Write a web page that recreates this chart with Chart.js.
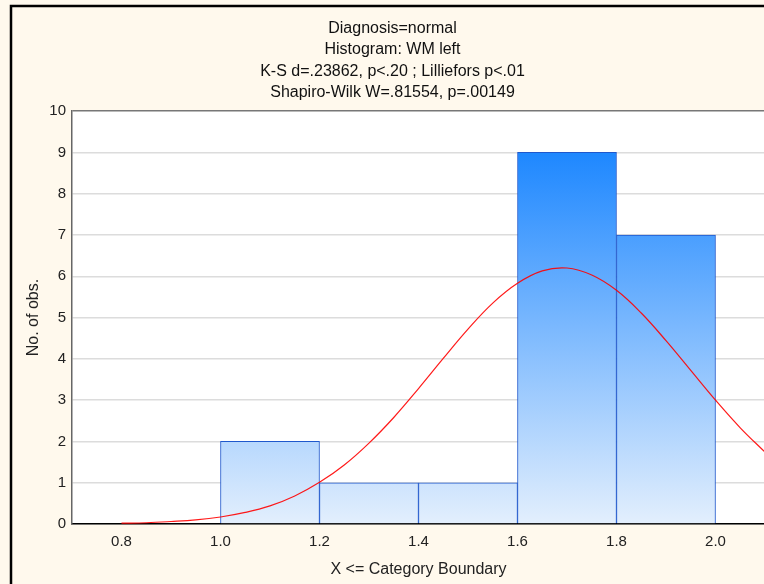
<!DOCTYPE html>
<html>
<head>
<meta charset="utf-8">
<script src="https://cdn.jsdelivr.net/npm/chart.js@4.4.1/dist/chart.umd.min.js"></script>
<style>
  html, body { margin: 0; padding: 0; overflow: hidden; background: #fff9ed; }
  canvas { display: block; }
</style>
</head>
<body>
<canvas id="histChart" width="790" height="584"></canvas>
<script>
// histogram bins (centre of each 0.2 wide class) and counts
const binCenters = [1.1, 1.3, 1.5, 1.7, 1.9];
const counts = [2, 1, 1, 9, 7];

// fitted normal curve
const curveX = [0.80, 0.85, 0.90, 0.95, 1.00, 1.05, 1.10, 1.15, 1.20, 1.25, 1.30, 1.35, 1.40, 1.45,
  1.50, 1.55, 1.60, 1.65, 1.70, 1.75, 1.80, 1.85, 1.90, 1.95, 2.00, 2.05, 2.10];
const curveY = [0.02, 0.03, 0.06, 0.10, 0.17, 0.28, 0.44, 0.68, 1.01, 1.43, 1.96, 2.58, 3.28, 4.01,
  4.72, 5.35, 5.83, 6.13, 6.20, 6.03, 5.66, 5.11, 4.44, 3.72, 3.00, 2.33, 1.74];

const xTicks = [0.8, 1.0, 1.2, 1.4, 1.6, 1.8, 2.0];
const titleLines = [
  'Diagnosis=normal',
  'Histogram: WM left',
  'K-S d=.23862, p<.20 ; Lilliefors p<.01',
  'Shapiro-Wilk W=.81554, p=.00149'
];

const FONT = "'Liberation Sans', Arial, sans-serif";

const backdrop = {
  id: 'backdrop',
  beforeDraw(chart) {
    const { ctx, width, height, chartArea } = chart;
    ctx.save();
    ctx.fillStyle = '#fff9ed';
    ctx.fillRect(0, 0, width, height);
    ctx.fillStyle = '#ffffff';
    ctx.fillRect(chartArea.left, chartArea.top, chartArea.right - chartArea.left, chartArea.bottom - chartArea.top);
    // outer frame
    ctx.strokeStyle = '#000';
    ctx.lineWidth = 2.5;
    ctx.beginPath();
    ctx.moveTo(11, height + 5);
    ctx.lineTo(11, 6);
    ctx.lineTo(width + 5, 6);
    ctx.stroke();
    ctx.restore();
  }
};

const barFill = (context) => {
  const area = context.chart.chartArea;
  if (!area) return '#6aaeff';
  const g = context.chart.ctx.createLinearGradient(0, area.top, 0, area.bottom);
  g.addColorStop(0, '#087cff');
  g.addColorStop(1, '#e3effd');
  return g;
};

new Chart(document.getElementById('histChart'), {
  type: 'bar',
  data: {
    datasets: [
      {
        type: 'line',
        data: curveX.map((x, i) => ({ x: x, y: curveY[i] })),
        borderColor: 'rgba(255, 0, 0, 0.9)',
        borderWidth: 1.2,
        pointRadius: 0,
        tension: 0.4,
        fill: false,
        order: 0
      },
      {
        type: 'bar',
        data: binCenters.map((x, i) => ({ x: x, y: counts[i] })),
        backgroundColor: barFill,
        borderColor: '#1f58cc',
        borderWidth: 1,
        barPercentage: 1,
        categoryPercentage: 1,
        order: 1
      }
    ]
  },
  options: {
    responsive: false,
    animation: false,
    layout: { padding: { left: 20, right: 25, top: 6, bottom: 0 } },
    plugins: {
      legend: { display: false },
      tooltip: { enabled: false },
      title: {
        display: true,
        text: titleLines,
        color: '#111',
        font: { family: FONT, size: 16, weight: 'normal', lineHeight: 1.33 },
        padding: { top: 12, bottom: 8 }
      }
    },
    scales: {
      x: {
        type: 'linear',
        min: 0.7,
        max: 2.1,
        offset: false,
        afterFit: (scale) => { scale.height = 60; },
        afterBuildTicks: (scale) => { scale.ticks = xTicks.map(v => ({ value: v })); },
        ticks: {
          color: '#222',
          padding: 9,
          maxRotation: 0,
          autoSkip: false,
          font: { family: FONT, size: 15 },
          callback: (v) => Number(v).toFixed(1)
        },
        grid: { display: false, drawTicks: false },
        border: { display: true, color: '#000', width: 1.5 },
        title: {
          display: true,
          text: 'X <= Category Boundary',
          color: '#222',
          font: { family: FONT, size: 16 },
          padding: { top: 0, bottom: 5 }
        }
      },
      y: {
        min: 0,
        max: 10,
        afterFit: (scale) => { scale.width = 52; },
        ticks: {
          stepSize: 1,
          color: '#222',
          padding: 6,
          font: { family: FONT, size: 15 }
        },
        grid: {
          drawTicks: false,
          color: (c) => (c.tick && c.tick.value === 10 ? '#777' : '#dcdcdc'),
          lineWidth: 1.5
        },
        border: { display: true, color: '#666', width: 1.5 },
        title: {
          display: true,
          text: 'No. of obs.',
          color: '#222',
          font: { family: FONT, size: 16 },
          padding: { top: 4, bottom: 0 }
        }
      }
    }
  },
  plugins: [backdrop]
});
</script>
</body>
</html>
